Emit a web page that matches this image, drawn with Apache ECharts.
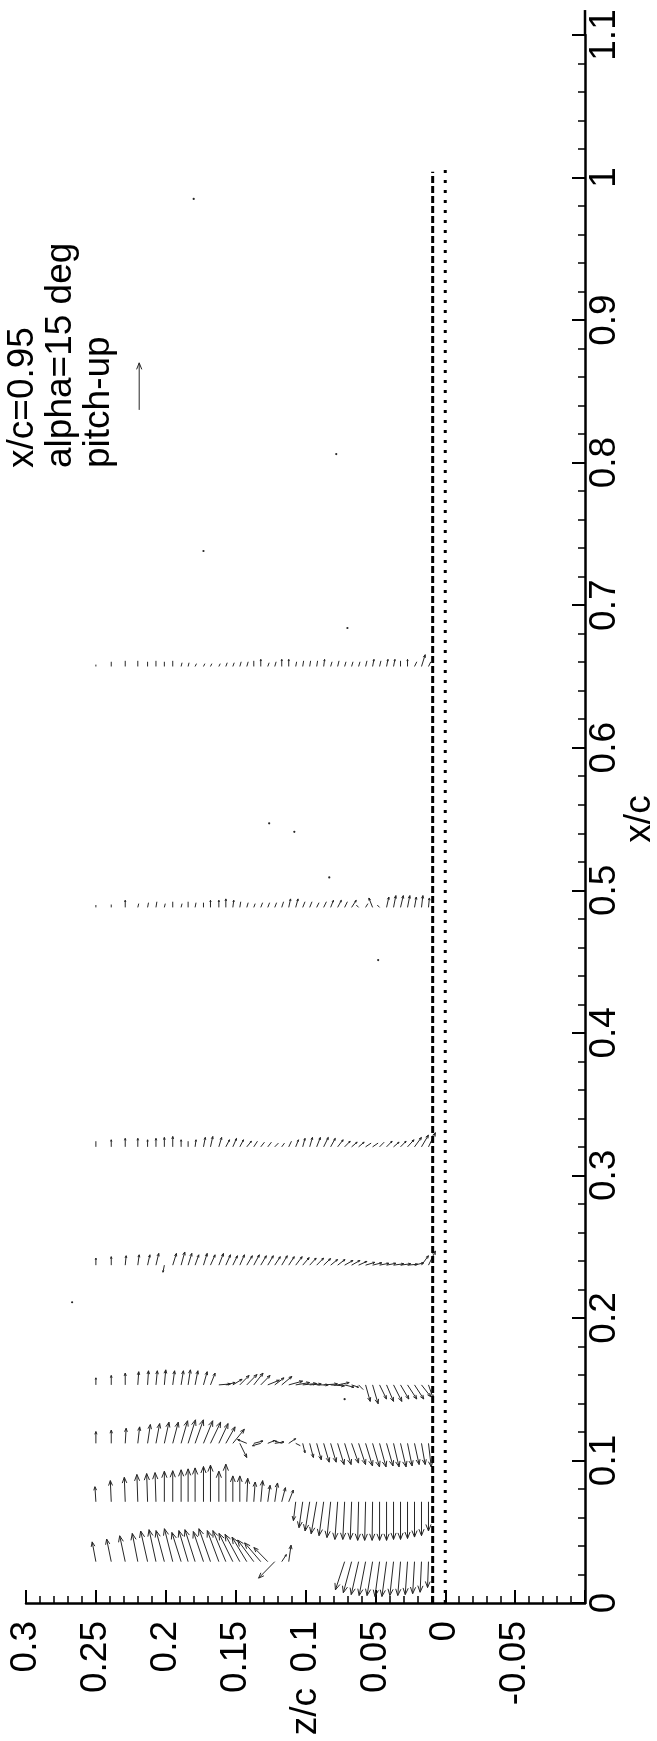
<!DOCTYPE html>
<html><head><meta charset="utf-8">
<script src="https://cdn.jsdelivr.net/npm/echarts@6/dist/echarts.min.js"></script>
<style>html,body{margin:0;padding:0;background:#fff}#c{width:657px;height:1741px}</style>
</head><body><div id="c"></div>
<script>
// rake stations (x/c) and grid points along each rake (z/c)
const rakeX = [0.029, 0.071, 0.112, 0.153, 0.237, 0.32, 0.488, 0.657];
const zGrid = [0.250,0.239,0.229,0.220,0.213,0.207,0.201,0.195,0.189,0.184,0.179,0.173,0.168,0.162,0.157,0.152,0.147,0.142,0.137,0.132,0.127,0.122,0.117,0.112,0.107,0.102,0.097,0.092,0.087,0.082,0.077,0.072,0.067,0.062,0.057,0.052,0.047,0.042,0.037,0.032,0.027,0.022,0.017,0.012];
// velocity components (u along x/c, w along z/c), reference arrow = 1
const u0 = [0.42,0.48,0.55,0.60,0.65,0.68,0.66,0.70,0.62,0.66,0.68,0.64,0.70,0.66,0.66,0.60,0.58,0.52,0.46,0.40,0.30,-0.35,0.15,0.35,null,null,null,null,null,null,null,-0.60,-0.66,-0.70,-0.72,-0.72,-0.74,-0.74,-0.72,-0.72,-0.70,-0.68,-0.65,-0.55];
const w0 = [0.08,0.10,0.12,0.12,0.15,0.15,0.18,0.18,0.20,0.20,0.22,0.22,0.25,0.25,0.28,0.30,0.32,0.32,0.35,0.35,0.30,0.35,-0.10,-0.05,null,null,null,null,null,null,null,0.20,0.18,0.16,0.14,0.12,0.10,0.10,0.08,0.06,0.05,0.04,0.03,0.02];
const u1 = [0.32,0.45,0.52,0.58,0.60,0.62,0.65,0.66,0.68,0.70,0.72,0.75,0.78,0.65,0.80,0.55,0.55,0.50,0.42,0.45,0.35,0.40,0.30,0.25,-0.40,-0.55,-0.62,-0.68,-0.72,-0.76,-0.80,-0.80,-0.80,-0.82,-0.82,-0.82,-0.82,-0.82,-0.80,-0.80,-0.78,-0.75,-0.72,-0.62];
const w1 = [0.02,0.02,0.02,0.02,0.02,0.02,0,0,0,0,0,0,0,0,0,0,0,-0.02,-0.03,-0.04,-0.05,-0.06,-0.08,-0.10,0.05,0.08,0.10,0.12,0.10,0.08,0.06,0.04,0.03,0.02,0.02,0.01,0,0,0,0,0,0,0,0];
const u2 = [0.25,0.28,0.32,0.35,0.40,0.42,0.45,0.45,0.48,0.50,0.50,0.48,0.45,0.42,0.35,0.30,-0.30,0.08,0.05,-0.05,0.06,0.03,0.05,0.10,-0.05,-0.20,-0.30,-0.35,-0.40,-0.40,-0.45,-0.45,-0.42,-0.45,-0.48,-0.50,-0.50,-0.48,-0.50,-0.50,-0.48,-0.45,-0.45,-0.50];
const w2 = [0,0,-0.02,-0.04,-0.06,-0.08,-0.10,-0.12,-0.14,-0.16,-0.18,-0.20,-0.22,-0.20,-0.20,-0.25,-0.15,0.20,-0.20,0.18,-0.15,-0.20,0.15,-0.15,-0.10,-0.05,-0.08,-0.10,-0.12,-0.12,-0.14,-0.14,-0.15,-0.15,-0.15,-0.15,-0.14,-0.14,-0.12,-0.12,-0.10,-0.10,-0.08,-0.06];
const u3 = [0.15,0.20,0.25,0.28,0.30,0.30,0.32,0.30,0.30,0.32,0.30,0.28,0.25,0.02,0.05,0.12,0.20,0.22,0.25,0.20,0.10,0.15,0.18,0.08,0.05,0.03,0.02,0,0.02,-0.02,0.05,-0.05,-0.05,-0.10,-0.35,-0.40,-0.30,-0.35,-0.35,-0.30,-0.30,-0.30,-0.25,-0.28];
const w3 = [0,0,0,-0.02,-0.02,-0.03,-0.03,-0.04,-0.05,-0.05,-0.06,-0.08,-0.10,-0.25,-0.20,-0.20,-0.20,-0.22,-0.20,-0.20,-0.25,-0.20,-0.22,-0.30,-0.30,-0.30,-0.25,-0.25,-0.30,-0.30,-0.25,-0.20,-0.15,-0.10,-0.10,-0.12,-0.15,-0.15,-0.18,-0.18,-0.20,-0.20,-0.20,-0.10];
const u4 = [0.15,0.18,0.20,0.22,0.22,0.25,-0.15,0.25,0.28,0.25,0.22,0.25,0.22,0.25,0.22,0.20,0.22,0.20,0.22,0.20,0.20,0.18,0.20,0.18,0.18,0.16,0.15,0.15,0.14,0.12,0.12,0.10,0.10,0.08,0.06,0.05,0.04,0.04,0.03,0.03,0.02,0.05,0.20,0.30];
const w4 = [0,0,-0.02,-0.03,-0.05,-0.06,0.03,-0.08,-0.08,-0.08,-0.08,-0.08,-0.10,-0.10,-0.10,-0.10,-0.10,-0.12,-0.12,-0.12,-0.12,-0.12,-0.12,-0.12,-0.14,-0.14,-0.14,-0.15,-0.15,-0.15,-0.16,-0.18,-0.18,-0.18,-0.20,-0.20,-0.20,-0.20,-0.22,-0.22,-0.22,-0.20,-0.15,-0.15];
const u5 = [0.12,0.15,0.18,0.18,0.15,0.18,0.20,0.22,0.15,0.12,0.15,0.20,0.22,0.20,0.15,0.18,0.15,0.12,0.12,0.10,0.10,0.08,0.08,0.12,0.15,0.18,0.20,0.20,0.20,0.18,0.15,0.12,0.10,0.10,0.08,0.08,0.10,0.12,0.10,0.12,0.15,0.20,0.25,0.30];
const w5 = [0,0,0,0,0,0,0,0,0,0,-0.02,-0.04,-0.05,-0.06,-0.08,-0.08,-0.08,-0.10,-0.08,-0.08,-0.08,-0.08,-0.06,-0.06,-0.06,-0.05,-0.06,-0.08,-0.10,-0.10,-0.12,-0.12,-0.12,-0.12,-0.12,-0.12,-0.10,-0.12,-0.12,-0.12,-0.14,-0.15,-0.15,-0.15];
const u6 = [0.05,0.06,0.15,0.08,0.10,0.12,0.08,0.12,0.08,0.12,0.10,0.10,0.15,0.15,0.18,0.15,0.12,0.10,0.08,0.10,0.10,0.10,0.12,0.18,0.18,0.12,0.12,0.10,0.12,0.15,0.15,0.12,0.15,0.05,0.08,0.20,0.05,0.22,0.25,0.25,0.25,0.22,0.25,0.20];
const w6 = [0,0,0,-0.02,-0.02,-0.02,-0.02,0,-0.02,0,-0.02,0,0,0,0,-0.02,-0.02,-0.03,-0.03,-0.04,-0.04,-0.04,-0.04,-0.04,-0.05,-0.05,-0.05,-0.05,-0.06,-0.06,-0.08,-0.06,-0.10,0.05,-0.05,0.08,0.05,-0.05,-0.05,-0.06,-0.05,-0.04,-0.03,-0.02];
const u7 = [0.04,0.10,0.12,0.12,0.10,0.12,0.10,0.12,0.08,0.08,0.06,0.06,0.06,0.06,0.08,0.08,0.10,0.10,0.12,0.15,0.08,0.10,0.15,0.15,0.10,0.12,0.12,0.12,0.15,0.10,0.12,0.10,0.10,0.10,0.12,0.15,0.12,0.15,0.15,0.12,0.15,0.10,0.25,0.10];
const w7 = [0,0,0,0,0,0,0,0,-0.02,-0.02,-0.03,-0.03,-0.03,-0.03,-0.03,-0.03,-0.03,-0.03,0,0,-0.03,-0.03,0,0,-0.02,-0.02,-0.02,-0.02,-0.02,-0.03,-0.03,-0.03,-0.03,-0.03,-0.03,-0.03,-0.03,-0.03,-0.03,0,0,-0.05,-0.08,-0.05];
const uList = [u0,u1,u2,u3,u4,u5,u6,u7];
const wList = [w0,w1,w2,w3,w4,w5,w6,w7];
// isolated zero-length vectors (stray points): z/c and x/c
const strayZ = [0.180, 0.078, 0.173, 0.070, 0.126, 0.108, 0.083, 0.048, 0.267, 0.072];
const strayX = [0.985, 0.806, 0.738, 0.684, 0.547, 0.541, 0.509, 0.451, 0.211, 0.143];
// reference vector (tail position z/c, x/c; components u, w)
const refArrow = [0.219, 0.837, 1, 0];
const refScale = 0.033; // chord lengths per unit velocity
// reference lines
const dashedLine = [[0.009, 0], [0.009, 1.004]];
const dottedLine = [[0, 0], [0, 1.007]];
const xTicks = [0,0.1,0.2,0.3,0.4,0.5,0.6,0.7,0.8,0.9,1,1.1];
const zTicks = [0.3,0.25,0.2,0.15,0.1,0.05,0,-0.05];
const textLines = ['x/c=0.95', 'alpha=15 deg', 'pitch-up'];

const vec = [];
rakeX.forEach((xc, r) => {
  zGrid.forEach((zc, i) => {
    const u = uList[r][i], w = wList[r][i];
    if (u !== null && w !== null) vec.push([zc, xc, w, u]);
  });
});
vec.push([refArrow[0], refArrow[1], refArrow[3], refArrow[2]]);
strayZ.forEach((z, i) => vec.push([z, strayX[i], 0, 0]));

const FONT = '"Liberation Sans", Arial, Helvetica, sans-serif';
const INK = '#262626';
const chart = echarts.init(document.getElementById('c'), null, {renderer: 'canvas'});
chart.setOption({
  animation: false,
  backgroundColor: '#fff',
  grid: {left: 26, right: 72, top: 35, bottom: 138, containLabel: false, outerBoundsMode: 'none'},
  xAxis: {
    type: 'value', min: -0.1, max: 0.3, interval: 0.05, inverse: true, position: 'bottom',
    name: 'z/c', nameLocation: 'middle', nameGap: 85, nameRotate: 90, nameMoveOverlap: false,
    nameTextStyle: {fontSize: 37, color: '#000', fontFamily: FONT},
    axisLine: {show: true, onZero: false, lineStyle: {color: '#000', width: 2.5}},
    axisTick: {show: true, inside: true, length: 13, lineStyle: {color: '#000', width: 2}},
    minorTick: {show: true, splitNumber: 5, length: 7, lineStyle: {color: '#000', width: 1.5}},
    splitLine: {show: false}, minorSplitLine: {show: false},
    axisLabel: {rotate: 90, margin: 18, fontSize: 37, color: '#000', fontFamily: FONT, showMinLabel: true, showMaxLabel: true, hideOverlap: false,
      formatter: v => zTicks.some(t => Math.abs(t - v) < 1e-9) ? String(+v.toFixed(2)) : ''}
  },
  yAxis: {
    type: 'value', min: 0, max: 1.1, interval: 0.1, position: 'right',
    name: 'x/c', nameLocation: 'middle', nameGap: 36, nameRotate: 90, nameMoveOverlap: false,
    nameTextStyle: {fontSize: 37, color: '#000', fontFamily: FONT},
    axisLine: {show: true, onZero: false, lineStyle: {color: '#000', width: 2.5}},
    axisTick: {show: true, inside: true, length: 13, lineStyle: {color: '#000', width: 2}},
    minorTick: {show: true, splitNumber: 5, length: 7, lineStyle: {color: '#000', width: 1.5}},
    splitLine: {show: false}, minorSplitLine: {show: false},
    axisLabel: {rotate: 90, margin: 1, fontSize: 37, color: '#000', fontFamily: FONT, showMinLabel: true, showMaxLabel: true, hideOverlap: false,
      formatter: v => xTicks.some(t => Math.abs(t - v) < 1e-9) ? String(+v.toFixed(1)) : ''}
  },
  graphic: textLines.map((t, k) => ({
    type: 'text', x: 23 + 38 * k, y: 468, rotation: Math.PI / 2, silent: true,
    style: {text: t, font: '37px ' + FONT, fill: '#000', textAlign: 'left', textVerticalAlign: 'middle', verticalAlign: 'middle'}
  })),
  series: [
    {type: 'line', data: dashedLine, symbol: 'none', silent: true,
      lineStyle: {color: '#000', width: 3, type: [7, 3]}},
    {type: 'line', data: dottedLine, symbol: 'none', silent: true,
      lineStyle: {color: '#000', width: 3, type: [3, 7]}},
    {type: 'line', data: [[-0.1, 1.1], [-0.1, 1.1175]], symbol: 'none', silent: true, clip: false,
      lineStyle: {color: '#000', width: 2.5}},
    {type: 'custom', data: vec, clip: false, silent: true,
      renderItem: (params, api) => {
        const z = api.value(0), x = api.value(1), w = api.value(2), u = api.value(3);
        const p0 = api.coord([z, x]);
        if (u === 0 && w === 0) {
          return {type: 'circle', shape: {cx: p0[0], cy: p0[1], r: 1.1}, style: {fill: INK}};
        }
        const p1 = api.coord([z + w * refScale, x + u * refScale]);
        const dx = p1[0] - p0[0], dy = p1[1] - p0[1];
        const len = Math.hypot(dx, dy);
        const ch = [{type: 'line', shape: {x1: p0[0], y1: p0[1], x2: p1[0], y2: p1[1]},
          style: {stroke: INK, lineWidth: 1}}];
        if (len > 7) {
          const hl = Math.min(0.25 * len, 7), a = Math.atan2(dy, dx), ang = 0.38;
          ch.push({type: 'polyline', shape: {points: [
            [p1[0] - hl * Math.cos(a - ang), p1[1] - hl * Math.sin(a - ang)], [p1[0], p1[1]],
            [p1[0] - hl * Math.cos(a + ang), p1[1] - hl * Math.sin(a + ang)]]},
            style: {stroke: INK, fill: null, lineWidth: 1}});
        }
        return {type: 'group', children: ch};
      }}
  ]
});
</script></body></html>
